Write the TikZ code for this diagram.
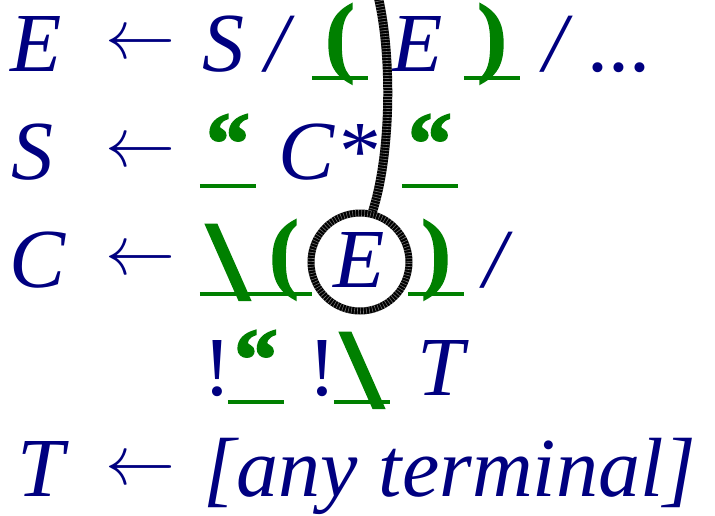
\documentclass[tikz,border=0pt]{standalone}
\usepackage{fontspec}
\setmainfont{Liberation Serif}
\newfontface\termface{Liberation Serif Bold}[FakeBold=2]
\definecolor{ntblue}{RGB}{0,0,128}
\definecolor{termgreen}{RGB}{0,128,0}
\newcommand\tup[1]{\raisebox{6pt}{#1}}
\newcommand\tbs{\raisebox{-12pt}{\scalebox{1.65}[1.28]{\textbackslash}}}
\newcommand\larr{\resizebox{70pt}{!}{$\leftarrow$}}

\begin{document}
\begin{tikzpicture}[
		x=1pt, y=-1pt,
		nt/.style={text=ntblue, font=\fontsize{84}{90}\selectfont\itshape, inner sep=0pt, anchor=base},
		bang/.style={nt, font=\fontsize{84}{90}\selectfont\upshape},
		arr/.style={text=ntblue, inner sep=0pt, anchor=center},
		term/.style={text=termgreen, font=\termface\fontsize{88}{90}\selectfont, inner sep=0pt, anchor=base, minimum width=56pt},
		uline/.style={termgreen, line width=4.5pt},
		stripes/.style={postaction={draw, white, opacity=.45, line width=#1, dash pattern=on .6pt off 2.4pt}},
		ring/.style={circle, draw, line width=7pt, minimum size=98pt, inner sep=0pt, stripes=7pt},
		wire/.style={line width=9pt, stripes=9pt}
	]
	\useasboundingbox (0,0) rectangle (715,515);
	% E <- S / ( E ) / ...
	\node[nt] (e0) at (36,71) {E};
	\node[arr] (a1) at (140,46) {\larr};
	\node[nt] (s1) at (223,71) {S};
	\node[nt] (or1) at (277,71) {/};
	\node[term] (lp1) at (340,71) {\tup{(}};
	\node[nt] (e1) at (417,71) {E};
	\node[term] (rp1) at (492,71) {\tup{)}};
	\node[nt] (or2) at (555,71) {/};
	\node[nt] (dots) at (621,71) {...};
	% S <- " C* "
	\node[nt] (s0) at (33,179) {S};
	\node[arr] (a2) at (140,154) {\larr};
	\node[term] (q1) at (228,179) {\tup{“}};
	\node[nt] (cs) at (328,179) {C*};
	\node[term] (q2) at (430,179) {\tup{“}};
	% C <- \ ( E ) /
	\node[nt] (c0) at (38,287) {C};
	\node[arr] (a3) at (140,262) {\larr};
	\node[term] (bs3) at (228,287) {\tbs};
	\node[term] (lp3) at (284,287) {\tup{(}};
	\node[nt] (e3) at (359,287) {E};
	\node[ring] (hole) at (360,262) {};
	\node[term] (rp3) at (436,287) {\tup{)}};
	\node[nt] (or3) at (495,287) {/};
	% !" !\ T
	\node[bang] (n1) at (217,395) {!};
	\node[term] (q4) at (256,395) {\tup{“}};
	\node[bang] (n2) at (322,395) {!};
	\node[term] (bs4) at (362,395) {\tbs};
	\node[nt] (t4) at (441,395) {T};
	% T <- [any terminal]
	\node[nt] (t0) at (41,496) {T};
	\node[arr] (a5) at (140,472) {\larr};
	\node[nt] (any) at (450,496) {[any terminal]};
	\foreach \a/\b in {lp1/lp1, rp1/rp1, q1/q1, q2/q2, bs3/lp3, rp3/rp3, q4/q4, bs4/bs4}
		\draw[uline] ([yshift=-7pt]\a.base west) -- ([yshift=-7pt]\b.base east);
	\coordinate (top) at (377,-8);
	\draw[wire] (top) .. controls (392,50) and (392,150) .. (hole.76);
\end{tikzpicture}
\end{document}
